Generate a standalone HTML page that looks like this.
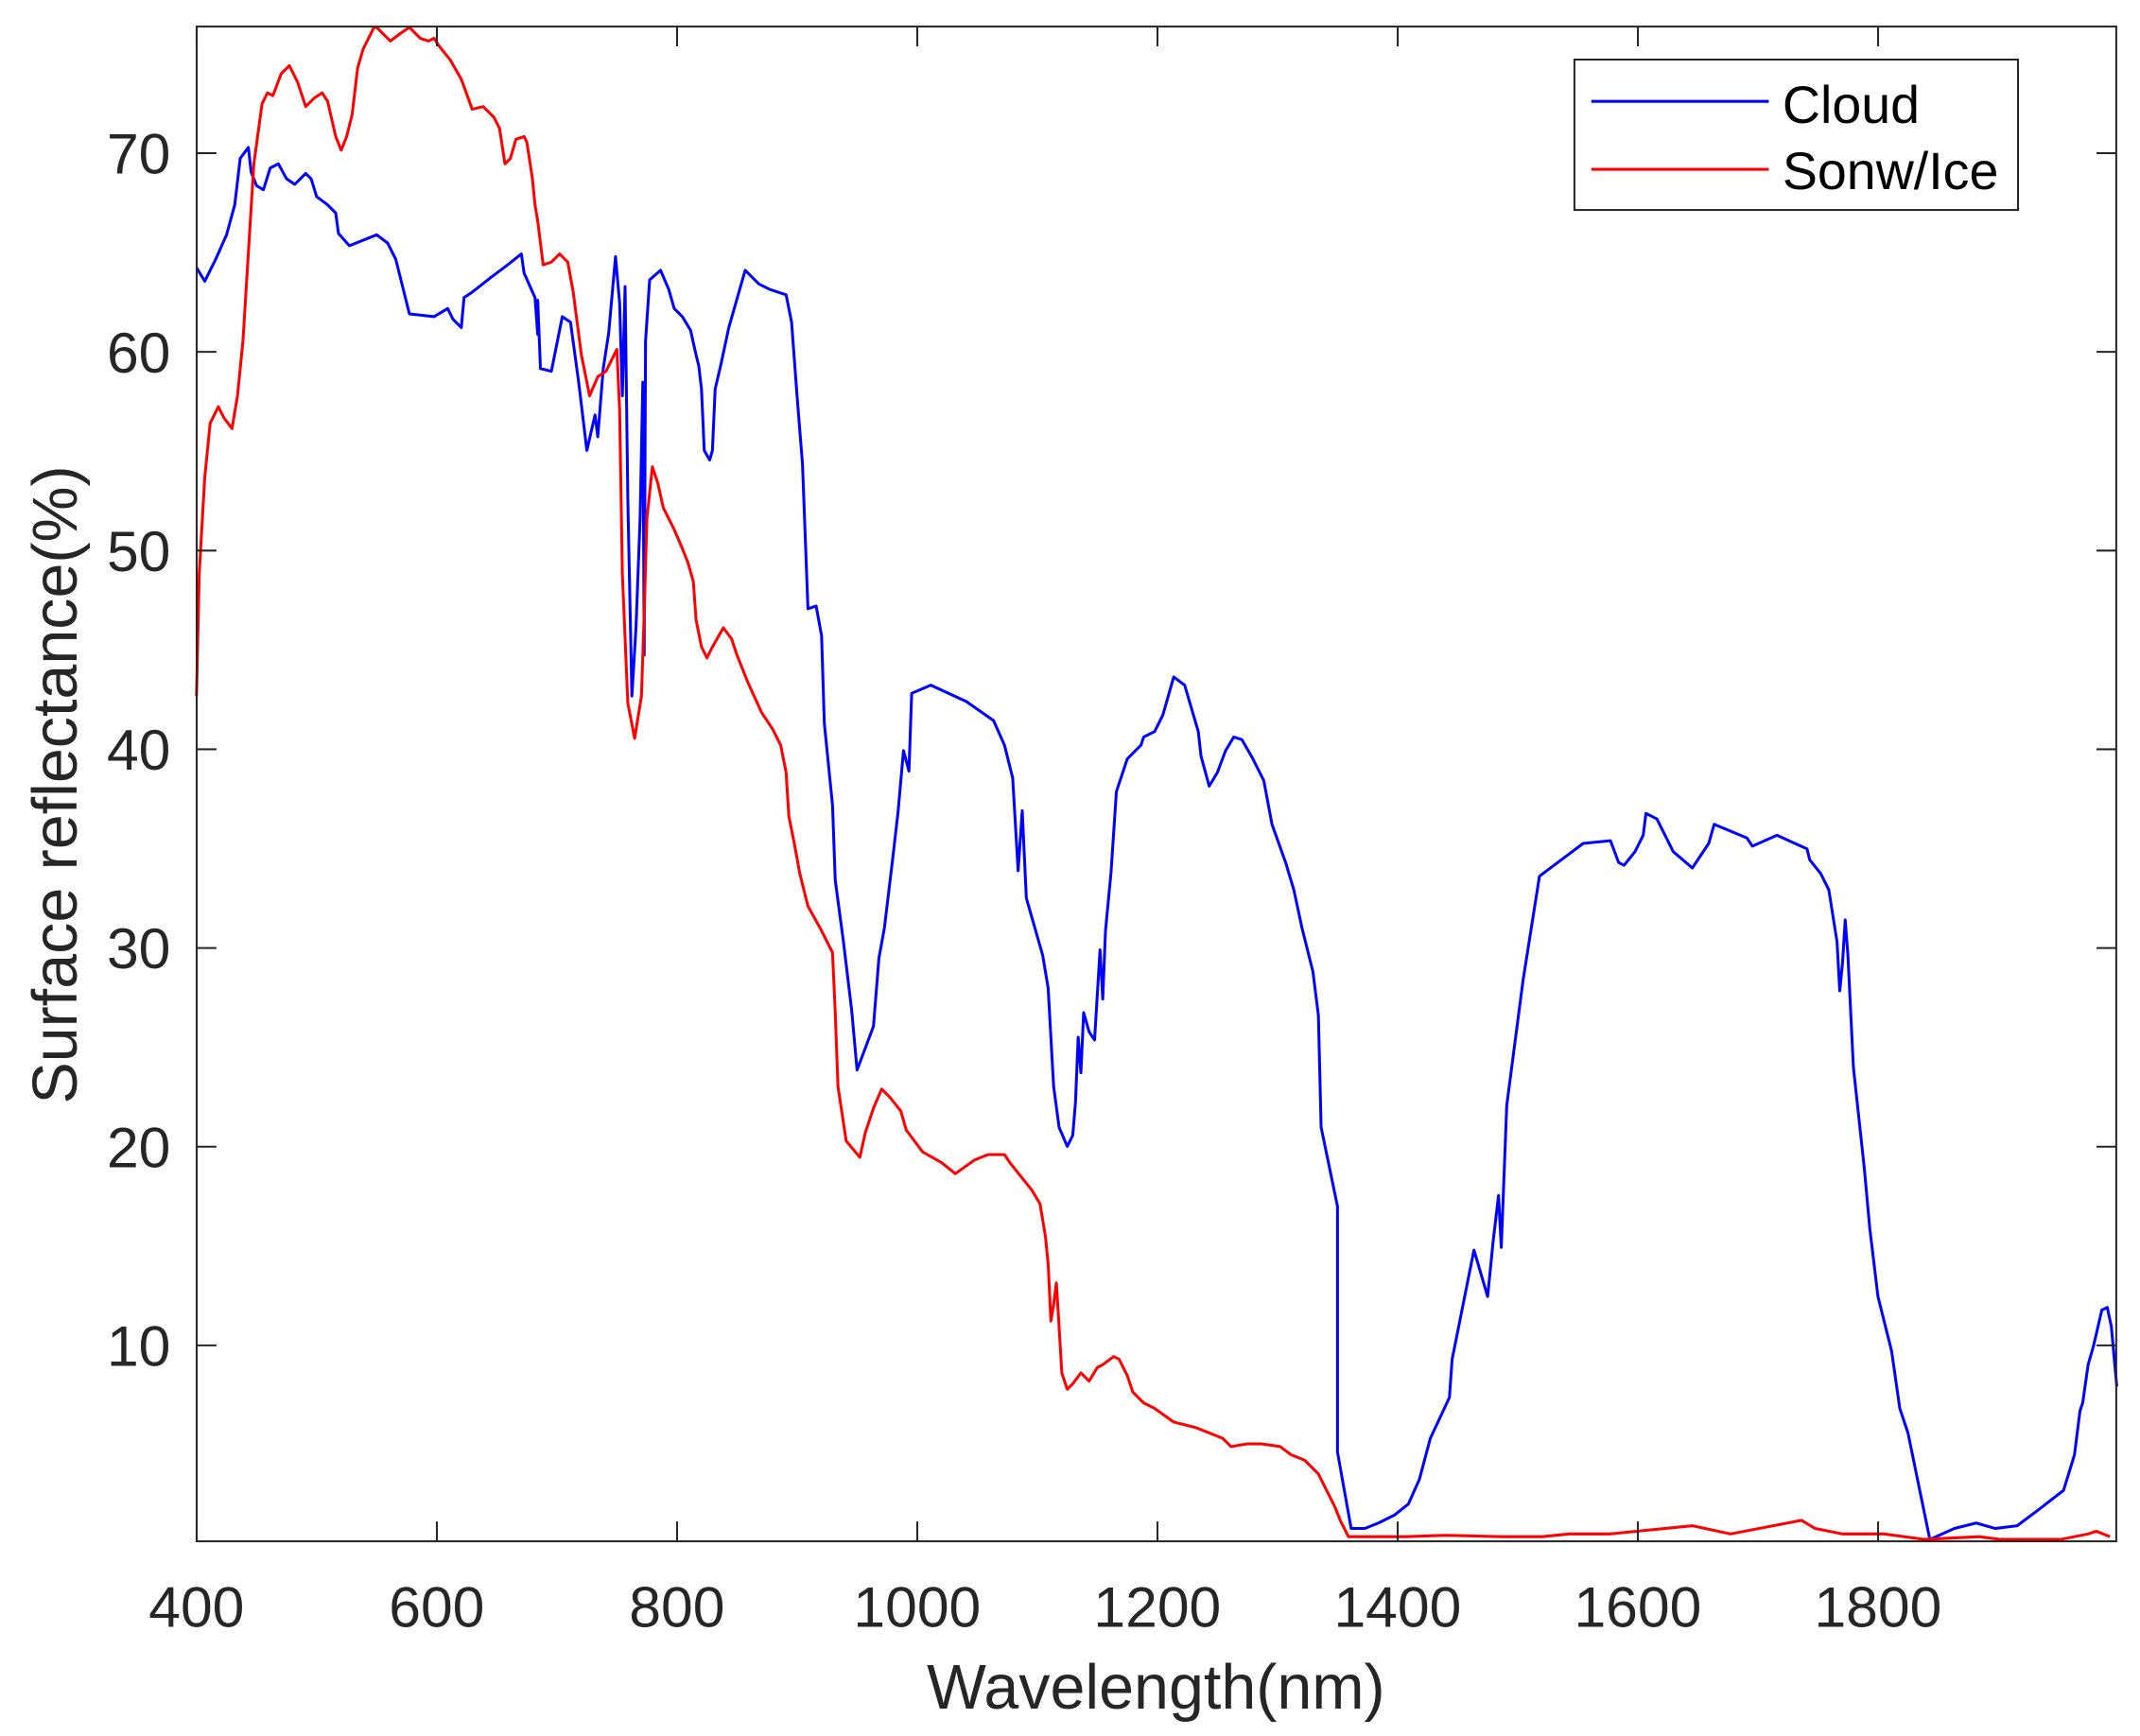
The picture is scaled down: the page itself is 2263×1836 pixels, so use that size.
<!DOCTYPE html>
<html><head><meta charset="utf-8"><style>
html,body{margin:0;padding:0;background:#fff;}
svg{display:block;}
text{font-family:"Liberation Sans",Arial,sans-serif;fill:#262626;}
</style></head><body>
<svg width="2263" height="1836" viewBox="0 0 1568 1272" xmlns="http://www.w3.org/2000/svg">
<rect width="1568" height="1272" fill="#fff"/>
<g fill="none" stroke-width="2.1" stroke-linejoin="round">
<polyline stroke="#0000ff" points="144,196 150,206 158,190 166,172 172,150 176,116 182,108 184,126 188,136 193,139 198,123 204,120 210,131 216,135 224,127 228,131 232,144 240,150 246,156 248,171 256,180 276,172 284,178 290,190 300,230 318,232 328,226 332,234 338,240 340,218 346,214 360,203 372,194 382,186 384,200 392,218 394,245 394,220 396,270 404,272 412,232 418,236 424,280 430,330 436,304 438,320 442,270 446,244 451,188 454,222 456,290 458,210 460,365 463,510 466,460 469,380 471,280 472,480 473,250 476,205 484,198 490,212 494,226 500,232 506,242 510,260 512,268 514,285 516,330 520,337 522,330 524,285 528,268 534,240 542,212 546,198 556,208 564,212 576,216 580,236 584,290 588,340 592,446 598,444 602,466 604,530 610,590 612,645 618,690 624,740 628,784 640,752 644,702 648,680 654,630 658,595 662,550 666,565 668,508 682,502 708,514 728,528 736,546 742,570 746,638 749,594 752,658 756,672 764,700 768,724 772,796 776,826 782,840 786,832 788,808 790,760 792,786 794,742 798,756 802,762 806,696 808,732 810,682 814,640 818,580 826,556 836,546 838,540 846,536 852,524 860,496 868,502 878,536 880,554 886,576 892,566 898,550 904,540 910,542 918,556 926,572 932,604 942,632 948,652 954,680 962,712 966,744 968,826 980,884 980,1064 990,1120 1000,1120 1010,1116 1022,1110 1032,1102 1040,1084 1048,1054 1062,1024 1064,996 1080,916 1090,950 1094,910 1098,876 1100,914 1104,810 1116,718 1128,642 1160,618 1180,616 1186,632 1190,634 1198,624 1204,612 1206,596 1214,600 1226,624 1240,636 1252,618 1256,604 1280,614 1284,620 1302,612 1324,622 1326,630 1334,640 1340,652 1346,690 1348,726 1350,706 1352,674 1354,700 1358,782 1366,856 1370,900 1376,950 1386,990 1392,1032 1398,1050 1414,1128 1432,1120 1448,1116 1462,1120 1478,1118 1494,1106 1512,1092 1520,1066 1524,1034 1526,1028 1530,1000 1534,986 1540,960 1544,958 1547,972 1551,1016"/>
<polyline stroke="#ff0000" points="144,510 146,420 150,350 154,310 160,298 164,306 170,314 174,290 178,250 182,185 186,120 192,76 196,68 200,70 206,54 212,48 218,60 224,78 230,72 236,68 240,74 246,100 250,110 254,100 258,84 262,50 266,36 270,28 274,20 276,20 286,30 294,24 300,20 308,28 314,30 318,28 322,34 330,44 338,58 346,80 354,78 362,86 366,94 370,120 374,116 378,102 384,100 386,104 390,130 392,150 394,162 398,194 404,192 410,186 416,192 420,214 426,260 432,290 438,276 444,272 452,256 454,300 456,420 460,515 465,541 470,510 472,450 474,380 478,342 482,354 486,372 494,388 500,402 504,412 508,426 510,454 514,474 518,482 522,474 530,460 536,468 540,480 548,500 558,522 566,534 572,546 576,566 578,598 582,618 586,640 592,664 602,682 610,698 612,742 614,796 620,836 630,848 634,830 640,812 646,798 652,804 660,814 664,828 676,844 690,852 700,860 714,850 724,846 736,846 740,852 748,862 756,872 762,882 766,906 768,926 770,968 772,956 774,940 776,972 778,1006 782,1018 786,1014 792,1006 798,1012 804,1002 808,1000 816,994 820,996 826,1008 830,1020 838,1028 846,1032 860,1042 876,1046 896,1054 902,1060 914,1058 924,1058 938,1060 946,1066 956,1070 966,1080 972,1092 978,1104 982,1114 988,1126 1000,1126 1030,1126 1060,1125 1100,1126 1130,1126 1150,1124 1180,1124 1200,1122 1240,1118 1268,1124 1320,1114 1330,1120 1350,1124 1380,1124 1410,1128 1450,1126 1466,1128 1490,1128 1510,1128 1530,1124 1536,1122 1546,1126"/>
</g>
<g stroke="#262626" stroke-width="1.4" fill="none">
<rect x="144.1" y="19.4" width="1406.5" height="1110"/>
<path d="M144.1,1129.4v-14.5M320.1,1129.4v-14.5M496.1,1129.4v-14.5M672.1,1129.4v-14.5M848.1,1129.4v-14.5M1024.1,1129.4v-14.5M1200.1,1129.4v-14.5M1376.1,1129.4v-14.5
M144.1,19.4v14.5M320.1,19.4v14.5M496.1,19.4v14.5M672.1,19.4v14.5M848.1,19.4v14.5M1024.1,19.4v14.5M1200.1,19.4v14.5M1376.1,19.4v14.5
M144.1,985.8h14.5M144.1,840.2h14.5M144.1,694.6h14.5M144.1,549h14.5M144.1,403.4h14.5M144.1,257.8h14.5M144.1,112.2h14.5
M1550.6,985.8h-14.5M1550.6,840.2h-14.5M1550.6,694.6h-14.5M1550.6,549h-14.5M1550.6,403.4h-14.5M1550.6,257.8h-14.5M1550.6,112.2h-14.5"/>
</g>
<g font-size="42" text-anchor="middle">
<text x="144" y="1192">400</text><text x="320" y="1192">600</text><text x="496" y="1192">800</text><text x="672" y="1192">1000</text><text x="848" y="1192">1200</text><text x="1024" y="1192">1400</text><text x="1200" y="1192">1600</text><text x="1376" y="1192">1800</text>
</g>
<g font-size="42" text-anchor="end">
<text x="125" y="1000.8">10</text><text x="125" y="855.2">20</text><text x="125" y="709.6">30</text><text x="125" y="564">40</text><text x="125" y="418.4">50</text><text x="125" y="272.8">60</text><text x="125" y="127.2">70</text>
</g>
<text x="847" y="1252" font-size="46" text-anchor="middle">Wavelength(nm)</text>
<text transform="translate(56,575) rotate(-90)" font-size="46" text-anchor="middle">Surface reflectance(%)</text>
<rect x="1153.6" y="43.6" width="325" height="110.2" fill="#fff" stroke="#262626" stroke-width="1.4"/>
<line x1="1166" y1="74.2" x2="1296" y2="74.2" stroke="#0000ff" stroke-width="2.1"/>
<line x1="1166" y1="124" x2="1296" y2="124" stroke="#ff0000" stroke-width="2.1"/>
<text x="1306" y="90" font-size="38.5" style="fill:#000">Cloud</text>
<text x="1306" y="138.6" font-size="38.5" style="fill:#000">Sonw/Ice</text>
</svg>
</body></html>
